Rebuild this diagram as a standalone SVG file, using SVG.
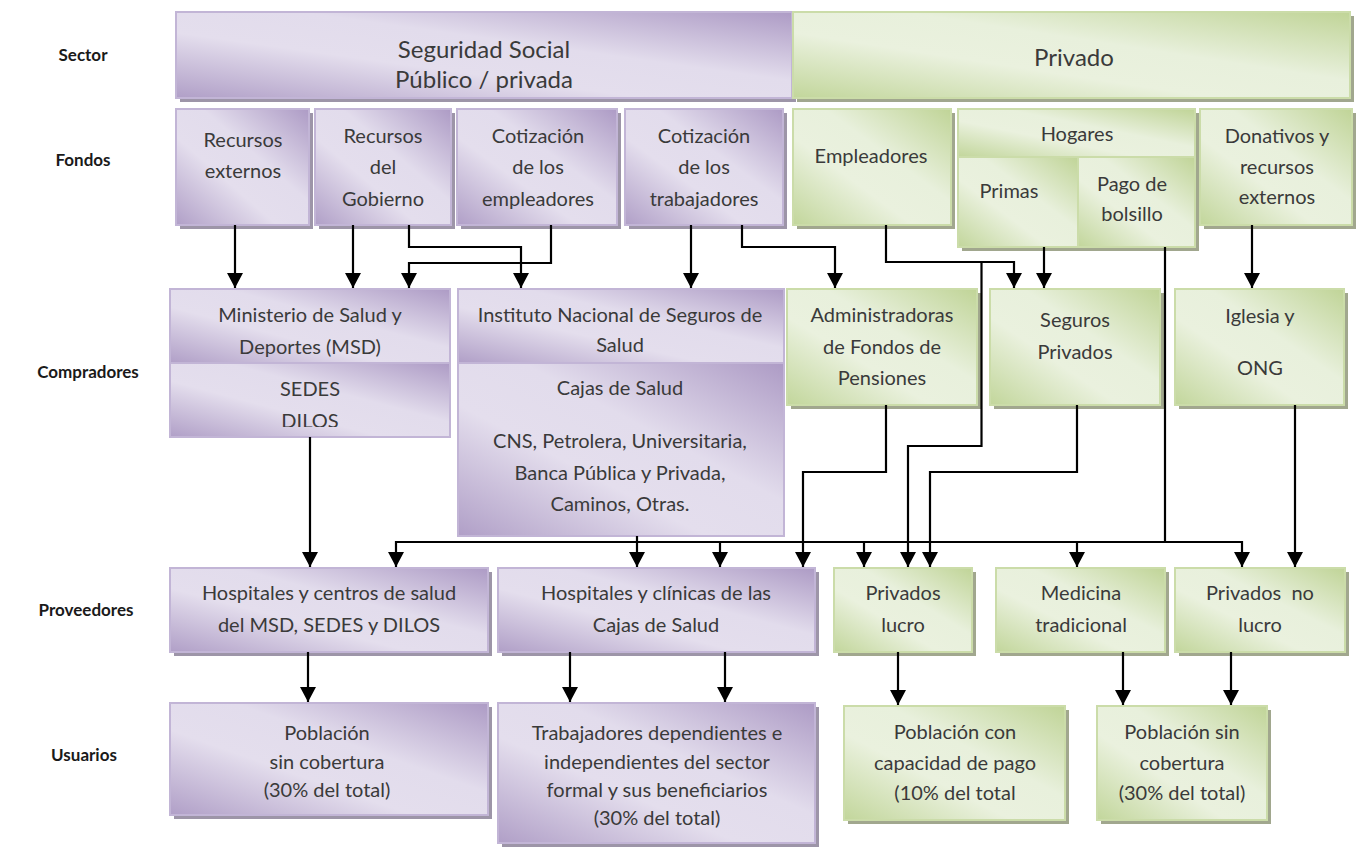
<svg xmlns="http://www.w3.org/2000/svg" width="1364" height="851" viewBox="0 0 1364 851">
<defs>
<linearGradient id="gp" x1="0" y1="1" x2="1" y2="0">
<stop offset="0" stop-color="#b09fc7"/>
<stop offset="0.38" stop-color="#e4deed"/>
<stop offset="0.6" stop-color="#e2dcec"/>
<stop offset="1" stop-color="#ad9bc5"/>
</linearGradient>
<linearGradient id="gg" x1="0" y1="1" x2="1" y2="0">
<stop offset="0" stop-color="#c2d69b"/>
<stop offset="0.38" stop-color="#eaf1de"/>
<stop offset="0.6" stop-color="#e8f0dc"/>
<stop offset="1" stop-color="#c0d497"/>
</linearGradient>
<marker id="ar" viewBox="0 0 15 16" refX="15" refY="8" markerWidth="15" markerHeight="16" markerUnits="userSpaceOnUse" orient="auto">
<path d="M0,0 L15,8 L0,16 z" fill="#000"/>
</marker>
<clipPath id="clipMSD"><rect x="170" y="363" width="280" height="64"/></clipPath>
</defs>
<style>
.p{fill:url(#gp);stroke:#c2b5d6;stroke-width:2}
.g{fill:url(#gg);stroke:#cbdca9;stroke-width:2}
.ps{fill:#9d95a8}
.gs{fill:#a1a78e}
.t{font-family:Lato,"Liberation Sans",sans-serif;font-size:20px;fill:#3a3a3a;text-anchor:middle}
.big{font-size:24px}
.lab{font-family:Lato,"Liberation Sans",sans-serif;font-size:17px;font-weight:bold;fill:#1a1a1a;text-anchor:middle}
.c{fill:none;stroke:#000;stroke-width:2.2}
.a{marker-end:url(#ar)}
</style>
<rect width="1364" height="851" fill="#fff"/>

<g id="labels">
<text class="lab" x="83" y="61">Sector</text>
<text class="lab" x="83" y="166">Fondos</text>
<text class="lab" x="88" y="378">Compradores</text>
<text class="lab" x="86" y="616">Proveedores</text>
<text class="lab" x="84" y="761">Usuarios</text>
</g>

<g id="sector-seguridad">
<rect class="ps" x="180" y="16" width="616" height="86"/>
<rect class="p" x="176" y="12" width="616" height="86"/>
<text class="t big" x="484" y="58">Seguridad Social</text>
<text class="t big" x="484" y="88">Público / privada</text>
</g>
<g id="sector-privado">
<rect class="gs" x="797" y="16" width="557" height="86"/>
<rect class="g" x="793" y="12" width="557" height="86"/>
<text class="t big" x="1074" y="66">Privado</text>
</g>

<g id="f-recursos-externos">
<rect class="ps" x="180" y="113" width="133" height="116"/>
<rect class="p" x="176" y="109" width="133" height="116"/>
<text class="t" x="243" y="147">Recursos</text>
<text class="t" x="243" y="178">externos</text>
</g>
<g id="f-recursos-gobierno">
<rect class="ps" x="319" y="113" width="136" height="116"/>
<rect class="p" x="315" y="109" width="136" height="116"/>
<text class="t" x="383" y="143">Recursos</text>
<text class="t" x="383" y="174">del</text>
<text class="t" x="383" y="206">Gobierno</text>
</g>
<g id="f-cot-empleadores">
<rect class="ps" x="461" y="113" width="160" height="116"/>
<rect class="p" x="457" y="109" width="160" height="116"/>
<text class="t" x="538" y="143">Cotización</text>
<text class="t" x="538" y="174">de los</text>
<text class="t" x="538" y="206">empleadores</text>
</g>
<g id="f-cot-trabajadores">
<rect class="ps" x="629" y="113" width="158" height="116"/>
<rect class="p" x="625" y="109" width="158" height="116"/>
<text class="t" x="704" y="143">Cotización</text>
<text class="t" x="704" y="174">de los</text>
<text class="t" x="704" y="206">trabajadores</text>
</g>
<g id="f-empleadores">
<rect class="gs" x="797" y="113" width="158" height="116"/>
<rect class="g" x="793" y="109" width="158" height="116"/>
<text class="t" x="871" y="163">Empleadores</text>
</g>
<g id="f-hogares">
<rect class="gs" x="962" y="113" width="237" height="138"/>
<rect class="g" x="958" y="109" width="237" height="48"/>
<rect class="g" x="958" y="157" width="120" height="90"/>
<rect class="g" x="1078" y="157" width="117" height="90"/>
<text class="t" x="1077" y="141">Hogares</text>
<text class="t" x="1009" y="198">Primas</text>
<text class="t" x="1132" y="191">Pago de</text>
<text class="t" x="1132" y="221">bolsillo</text>
</g>
<g id="f-donativos">
<rect class="gs" x="1204" y="113" width="152" height="116"/>
<rect class="g" x="1200" y="109" width="152" height="116"/>
<text class="t" x="1277" y="143">Donativos y</text>
<text class="t" x="1277" y="174">recursos</text>
<text class="t" x="1277" y="204">externos</text>
</g>

<g id="c-msd">
<rect class="p" x="170" y="289" width="280" height="74"/>
<rect class="p" x="170" y="363" width="280" height="74"/>
<text class="t" x="310" y="322">Ministerio de Salud y</text>
<text class="t" x="310" y="354">Deportes (MSD)</text>
<text class="t" x="310" y="396">SEDES</text>
<text class="t" x="310" y="428" clip-path="url(#clipMSD)">DILOS</text>
</g>
<g id="c-inss">
<rect class="p" x="458" y="289" width="326" height="74"/>
<rect class="p" x="458" y="363" width="326" height="173"/>
<text class="t" x="620" y="322">Instituto Nacional de Seguros de</text>
<text class="t" x="620" y="352">Salud</text>
<text class="t" x="620" y="395">Cajas de Salud</text>
<text class="t" x="620" y="448">CNS, Petrolera, Universitaria,</text>
<text class="t" x="620" y="480">Banca Pública y Privada,</text>
<text class="t" x="620" y="511">Caminos, Otras.</text>
</g>
<g id="c-afp">
<rect class="gs" x="791" y="293" width="190" height="116"/>
<rect class="g" x="787" y="289" width="190" height="116"/>
<text class="t" x="882" y="322">Administradoras</text>
<text class="t" x="882" y="354">de Fondos de</text>
<text class="t" x="882" y="385">Pensiones</text>
</g>
<g id="c-seguros">
<rect class="gs" x="994" y="293" width="170" height="116"/>
<rect class="g" x="990" y="289" width="170" height="116"/>
<text class="t" x="1075" y="327">Seguros</text>
<text class="t" x="1075" y="359">Privados</text>
</g>
<g id="c-iglesia">
<rect class="gs" x="1179" y="293" width="169" height="116"/>
<rect class="g" x="1175" y="289" width="169" height="116"/>
<text class="t" x="1260" y="323">Iglesia y</text>
<text class="t" x="1260" y="375">ONG</text>
</g>

<g id="p-hosp-msd">
<rect class="ps" x="174" y="572" width="318" height="84"/>
<rect class="p" x="170" y="568" width="318" height="84"/>
<text class="t" x="329" y="600">Hospitales y centros de salud</text>
<text class="t" x="329" y="632">del MSD, SEDES y DILOS</text>
</g>
<g id="p-hosp-cajas">
<rect class="ps" x="502" y="572" width="317" height="84"/>
<rect class="p" x="498" y="568" width="317" height="84"/>
<text class="t" x="656" y="600">Hospitales y clínicas de las</text>
<text class="t" x="656" y="632">Cajas de Salud</text>
</g>
<g id="p-privados-lucro">
<rect class="gs" x="838" y="572" width="138" height="84"/>
<rect class="g" x="834" y="568" width="138" height="84"/>
<text class="t" x="903" y="600">Privados</text>
<text class="t" x="903" y="632">lucro</text>
</g>
<g id="p-medicina">
<rect class="gs" x="1000" y="572" width="169" height="84"/>
<rect class="g" x="996" y="568" width="169" height="84"/>
<text class="t" x="1081" y="600">Medicina</text>
<text class="t" x="1081" y="632">tradicional</text>
</g>
<g id="p-privados-no-lucro">
<rect class="gs" x="1179" y="572" width="170" height="84"/>
<rect class="g" x="1175" y="568" width="170" height="84"/>
<text class="t" x="1260" y="600" style="white-space:pre">Privados  no</text>
<text class="t" x="1260" y="632">lucro</text>
</g>

<g id="u-poblacion-sin">
<rect class="ps" x="174" y="707" width="318" height="112"/>
<rect class="p" x="170" y="703" width="318" height="112"/>
<text class="t" x="327" y="740">Población</text>
<text class="t" x="327" y="769">sin cobertura</text>
<text class="t" x="327" y="797">(30% del total)</text>
</g>
<g id="u-trabajadores">
<rect class="ps" x="502" y="707" width="317" height="140"/>
<rect class="p" x="498" y="703" width="317" height="140"/>
<text class="t" x="657" y="740">Trabajadores dependientes e</text>
<text class="t" x="657" y="769">independientes del sector</text>
<text class="t" x="657" y="797">formal y sus beneficiarios</text>
<text class="t" x="657" y="825">(30% del total)</text>
</g>
<g id="u-poblacion-con">
<rect class="gs" x="848" y="710" width="221" height="114"/>
<rect class="g" x="844" y="706" width="221" height="114"/>
<text class="t" x="955" y="739">Población con</text>
<text class="t" x="955" y="770">capacidad de pago</text>
<text class="t" x="955" y="800">(10% del total</text>
</g>
<g id="u-poblacion-sin-priv">
<rect class="gs" x="1101" y="710" width="170" height="114"/>
<rect class="g" x="1097" y="706" width="170" height="114"/>
<text class="t" x="1182" y="739">Población sin</text>
<text class="t" x="1182" y="770">cobertura</text>
<text class="t" x="1182" y="800">(30% del total)</text>
</g>

<g id="connectors">
<path class="c a" d="M235,225 V288"/>
<path class="c a" d="M353,225 V288"/>
<path class="c a" d="M409,225 V247 H521 V288"/>
<path class="c a" d="M551,225 V263 H409 V288"/>
<path class="c a" d="M691,225 V288"/>
<path class="c a" d="M742,225 V247 H835 V288"/>
<path class="c a" d="M886,225 V262 H1014 V288"/>
<path class="c a" d="M981.5,262 V446 H908 V567"/>
<path class="c a" d="M1044,247 V288"/>
<path class="c" d="M1165,247 V542"/>
<path class="c a" d="M1252,225 V288"/>
<path class="c a" d="M310,437 V567"/>
<path class="c a" d="M637,536 V567"/>
<path class="c a" d="M1242,542 H396 V567"/>
<path class="c a" d="M1242,541 V567"/>
<path class="c a" d="M720,542 V567"/>
<path class="c a" d="M864,542 V567"/>
<path class="c a" d="M1077,542 V567"/>
<path class="c a" d="M886,405 V472 H803 V567"/>
<path class="c a" d="M1077,405 V472 H930 V567"/>
<path class="c a" d="M1295,405 V567"/>
<path class="c a" d="M308,652 V702"/>
<path class="c a" d="M570,652 V702"/>
<path class="c a" d="M725,652 V702"/>
<path class="c a" d="M898,652 V705"/>
<path class="c a" d="M1123,652 V705"/>
<path class="c a" d="M1231,652 V705"/>
</g>
</svg>
